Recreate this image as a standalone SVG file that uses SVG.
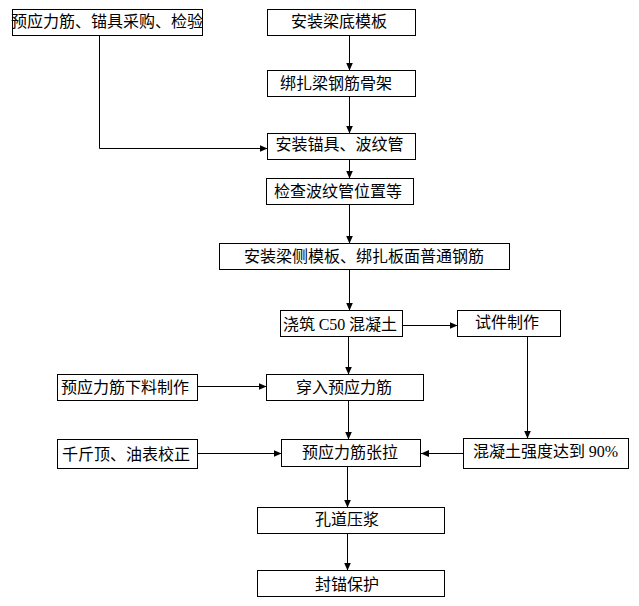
<svg xmlns="http://www.w3.org/2000/svg" width="639" height="606" viewBox="0 0 639 606">
<style>
  rect.box { fill: #fff; stroke: #000; stroke-width: 1; }
  text { font-family: "Noto Sans CJK SC", "Liberation Sans", sans-serif; font-size: 16px; fill: #000; text-anchor: middle; }
  tspan.lat { font-family: "Liberation Serif", serif; }
  #connectors path { fill: none; stroke: #000; stroke-width: 1; marker-end: url(#arrow); }
</style>
<defs>
  <marker id="arrow" markerUnits="userSpaceOnUse" markerWidth="8" markerHeight="7" refX="8" refY="3.5" orient="auto">
    <path d="M0,0 L8,3.5 L0,7 z" fill="#000"/>
  </marker>
</defs>
<rect width="639" height="606" fill="#fff"/>
<g id="connectors">
  <path d="M349.5,35.5 V70.5"/>
  <path d="M349.5,96.5 V133.5"/>
  <path d="M349.5,159.5 V178.5"/>
  <path d="M349.5,204.5 V243.5"/>
  <path d="M349.5,269.5 V310.5"/>
  <path d="M348.5,336.5 V374.5"/>
  <path d="M348.5,400.5 V439.5"/>
  <path d="M347.5,466.5 V507.5"/>
  <path d="M347.5,533.5 V570.5"/>
  <path d="M527.5,336.5 V438.5"/>
  <path d="M99.5,35.5 V148.5 H267.5"/>
  <path d="M402.5,325.5 H457.5"/>
  <path d="M197.5,386.5 H266.5"/>
  <path d="M197.5,453.5 H281.5"/>
  <path d="M463.5,453.5 H421"/>
</g>
<g id="n1"><rect class="box" x="12.5" y="9.5" width="190" height="26"/><text x="107" y="27">预应力筋、锚具采购、检验</text></g>
<g id="n2"><rect class="box" x="267.5" y="9.5" width="148" height="26"/><text x="339" y="27">安装梁底模板</text></g>
<g id="n3"><rect class="box" x="267.5" y="70.5" width="148" height="26"/><text x="336" y="89">绑扎梁钢筋骨架</text></g>
<g id="n4"><rect class="box" x="267.5" y="133.5" width="148" height="26"/><text x="339.5" y="150">安装锚具、波纹管</text></g>
<g id="n5"><rect class="box" x="266.5" y="178.5" width="147" height="26"/><text x="338" y="197">检查波纹管位置等</text></g>
<g id="n6"><rect class="box" x="219.5" y="243.5" width="290" height="26"/><text x="364" y="262">安装梁侧模板、绑扎板面普通钢筋</text></g>
<g id="n7"><rect class="box" x="280.5" y="310.5" width="122" height="26"/><text x="340" y="330">浇筑 <tspan class="lat">C50</tspan> 混凝土</text></g>
<g id="n8"><rect class="box" x="457.5" y="310.5" width="103" height="26"/><text x="507" y="328">试件制作</text></g>
<g id="n9"><rect class="box" x="57.5" y="374.5" width="140" height="26"/><text x="125" y="393">预应力筋下料制作</text></g>
<g id="n10"><rect class="box" x="266.5" y="374.5" width="157" height="26"/><text x="344" y="393">穿入预应力筋</text></g>
<g id="n11"><rect class="box" x="57.5" y="439.5" width="140" height="29"/><text x="126" y="460">千斤顶、油表校正</text></g>
<g id="n12"><rect class="box" x="281.5" y="439.5" width="139" height="27"/><text x="350" y="458">预应力筋张拉</text></g>
<g id="n13"><rect class="box" x="463.5" y="438.5" width="165" height="30"/><text x="545.5" y="457">混凝土强度达到 <tspan class="lat">90%</tspan></text></g>
<g id="n14"><rect class="box" x="257.5" y="507.5" width="187" height="26"/><text x="347" y="525">孔道压浆</text></g>
<g id="n15"><rect class="box" x="257.5" y="570.5" width="187" height="26"/><text x="347" y="590">封锚保护</text></g>
</svg>
